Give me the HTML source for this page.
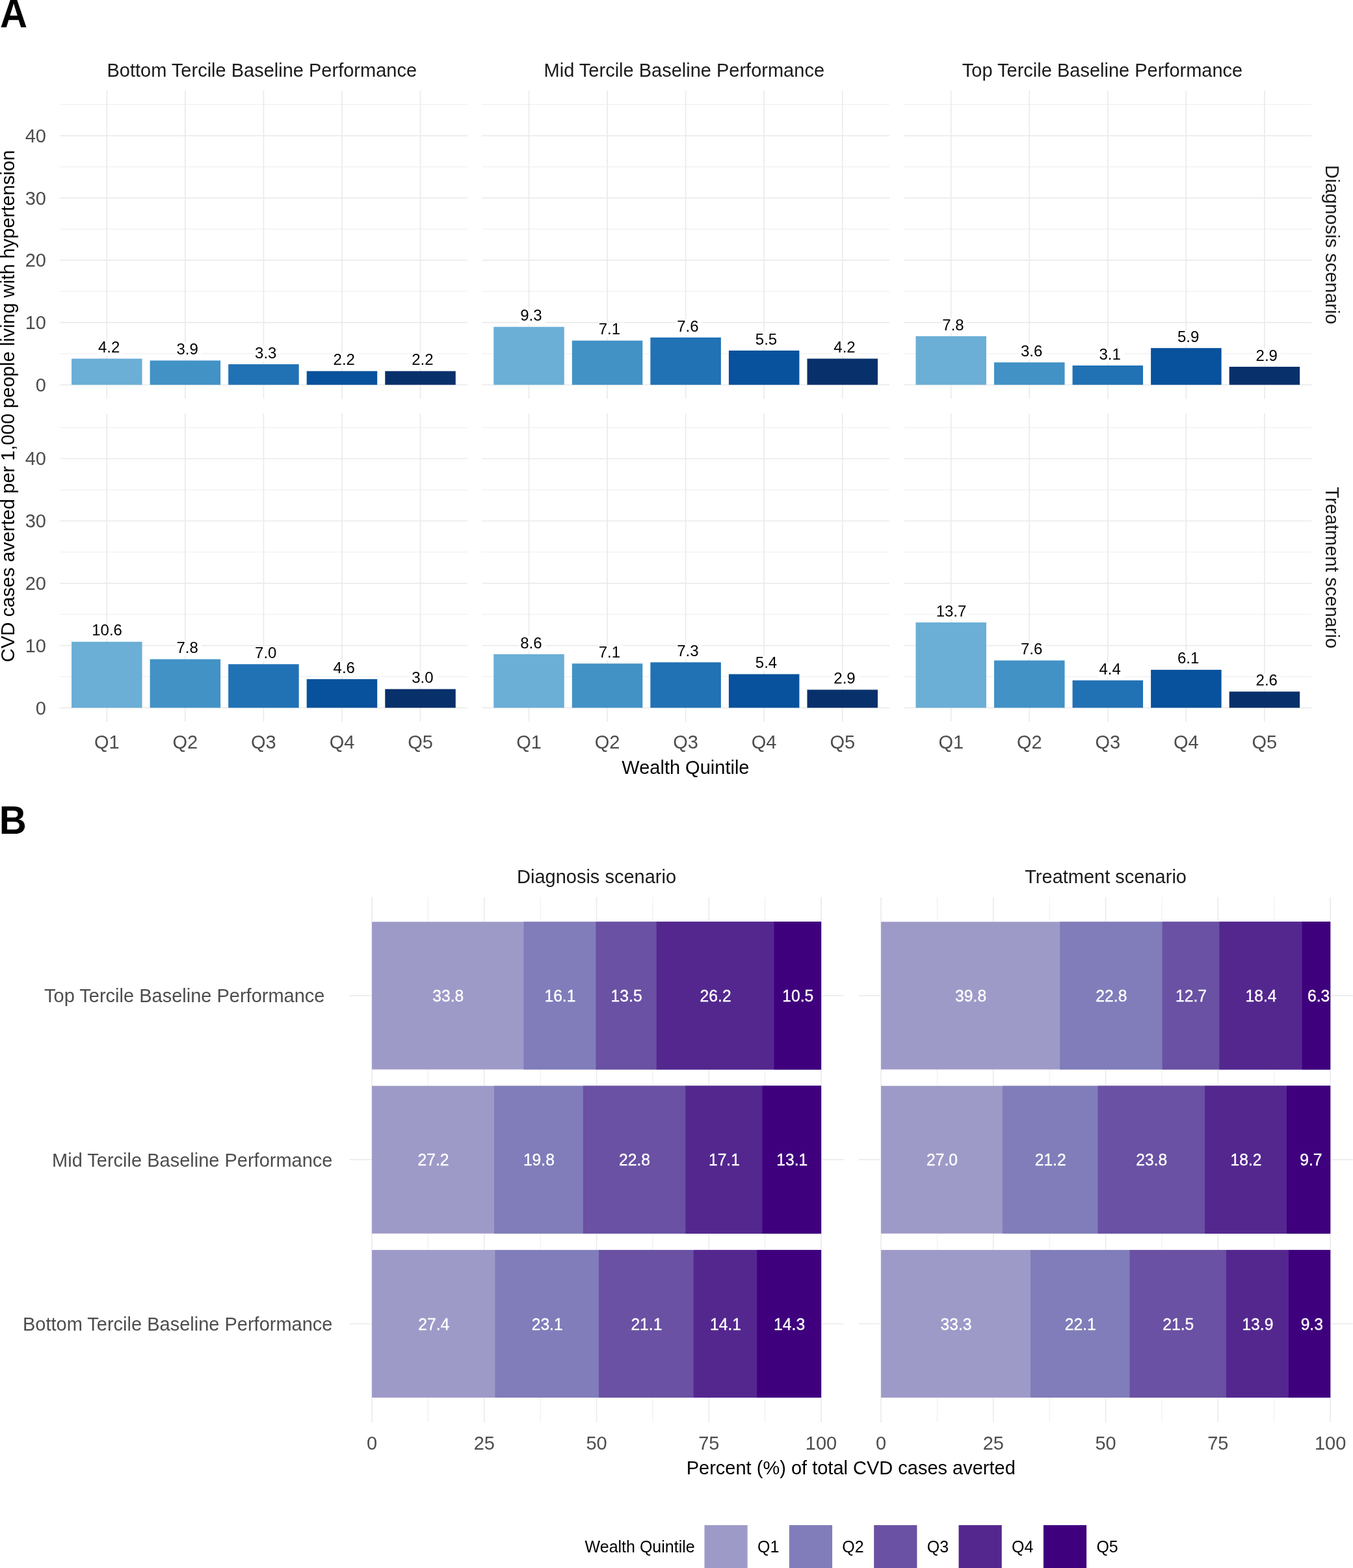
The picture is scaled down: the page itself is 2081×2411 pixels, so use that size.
<!DOCTYPE html>
<html><head><meta charset="utf-8"><title>CVD cases averted by wealth quintile</title>
<style>
html,body{margin:0;padding:0;background:#fff;}
body{width:2081px;height:2411px;overflow:hidden;}
svg{display:block;font-family:"Liberation Sans", Arial, Helvetica, sans-serif;}
</style></head>
<body>
<svg width="2081" height="2411" viewBox="0 0 2081 2411">
<rect x="0" y="0" width="2081" height="2411" fill="#FFFFFF"/>
<line x1="91.99" y1="543.82" x2="718.85" y2="543.82" stroke="#EBEBEB" stroke-width="0.9"/>
<line x1="91.99" y1="448.06" x2="718.85" y2="448.06" stroke="#EBEBEB" stroke-width="0.9"/>
<line x1="91.99" y1="352.3" x2="718.85" y2="352.3" stroke="#EBEBEB" stroke-width="0.9"/>
<line x1="91.99" y1="256.54" x2="718.85" y2="256.54" stroke="#EBEBEB" stroke-width="0.9"/>
<line x1="91.99" y1="160.78" x2="718.85" y2="160.78" stroke="#EBEBEB" stroke-width="0.9"/>
<line x1="91.99" y1="591.7" x2="718.85" y2="591.7" stroke="#EBEBEB" stroke-width="1.7"/>
<line x1="91.99" y1="495.94" x2="718.85" y2="495.94" stroke="#EBEBEB" stroke-width="1.7"/>
<line x1="91.99" y1="400.18" x2="718.85" y2="400.18" stroke="#EBEBEB" stroke-width="1.7"/>
<line x1="91.99" y1="304.42" x2="718.85" y2="304.42" stroke="#EBEBEB" stroke-width="1.7"/>
<line x1="91.99" y1="208.66" x2="718.85" y2="208.66" stroke="#EBEBEB" stroke-width="1.7"/>
<line x1="164.32" y1="139.23" x2="164.32" y2="613.25" stroke="#EBEBEB" stroke-width="1.7"/>
<line x1="284.87" y1="139.23" x2="284.87" y2="613.25" stroke="#EBEBEB" stroke-width="1.7"/>
<line x1="405.42" y1="139.23" x2="405.42" y2="613.25" stroke="#EBEBEB" stroke-width="1.7"/>
<line x1="525.97" y1="139.23" x2="525.97" y2="613.25" stroke="#EBEBEB" stroke-width="1.7"/>
<line x1="646.52" y1="139.23" x2="646.52" y2="613.25" stroke="#EBEBEB" stroke-width="1.7"/>
<rect x="110.07" y="551.48" width="108.5" height="40.22" fill="#6BAED6"/>
<rect x="149.44" y="523.68" width="39.8" height="23" fill="#FFFFFF"/>
<text x="167.62" y="542.08" font-size="24" fill="#000" text-anchor="middle">4.2</text>
<rect x="230.62" y="554.35" width="108.5" height="37.35" fill="#4292C6"/>
<rect x="269.99" y="526.55" width="39.8" height="23" fill="#FFFFFF"/>
<text x="288.17" y="544.95" font-size="24" fill="#000" text-anchor="middle">3.9</text>
<rect x="351.17" y="560.1" width="108.5" height="31.6" fill="#2171B5"/>
<rect x="390.54" y="532.3" width="39.8" height="23" fill="#FFFFFF"/>
<text x="408.72" y="550.7" font-size="24" fill="#000" text-anchor="middle">3.3</text>
<rect x="471.72" y="570.63" width="108.5" height="21.07" fill="#08519C"/>
<rect x="511.09" y="542.83" width="39.8" height="23" fill="#FFFFFF"/>
<text x="529.27" y="561.23" font-size="24" fill="#000" text-anchor="middle">2.2</text>
<rect x="592.27" y="570.63" width="108.5" height="21.07" fill="#08306B"/>
<rect x="631.64" y="542.83" width="39.8" height="23" fill="#FFFFFF"/>
<text x="649.82" y="561.23" font-size="24" fill="#000" text-anchor="middle">2.2</text>
<line x1="741.19" y1="543.82" x2="1368.05" y2="543.82" stroke="#EBEBEB" stroke-width="0.9"/>
<line x1="741.19" y1="448.06" x2="1368.05" y2="448.06" stroke="#EBEBEB" stroke-width="0.9"/>
<line x1="741.19" y1="352.3" x2="1368.05" y2="352.3" stroke="#EBEBEB" stroke-width="0.9"/>
<line x1="741.19" y1="256.54" x2="1368.05" y2="256.54" stroke="#EBEBEB" stroke-width="0.9"/>
<line x1="741.19" y1="160.78" x2="1368.05" y2="160.78" stroke="#EBEBEB" stroke-width="0.9"/>
<line x1="741.19" y1="591.7" x2="1368.05" y2="591.7" stroke="#EBEBEB" stroke-width="1.7"/>
<line x1="741.19" y1="495.94" x2="1368.05" y2="495.94" stroke="#EBEBEB" stroke-width="1.7"/>
<line x1="741.19" y1="400.18" x2="1368.05" y2="400.18" stroke="#EBEBEB" stroke-width="1.7"/>
<line x1="741.19" y1="304.42" x2="1368.05" y2="304.42" stroke="#EBEBEB" stroke-width="1.7"/>
<line x1="741.19" y1="208.66" x2="1368.05" y2="208.66" stroke="#EBEBEB" stroke-width="1.7"/>
<line x1="813.52" y1="139.23" x2="813.52" y2="613.25" stroke="#EBEBEB" stroke-width="1.7"/>
<line x1="934.07" y1="139.23" x2="934.07" y2="613.25" stroke="#EBEBEB" stroke-width="1.7"/>
<line x1="1054.62" y1="139.23" x2="1054.62" y2="613.25" stroke="#EBEBEB" stroke-width="1.7"/>
<line x1="1175.17" y1="139.23" x2="1175.17" y2="613.25" stroke="#EBEBEB" stroke-width="1.7"/>
<line x1="1295.72" y1="139.23" x2="1295.72" y2="613.25" stroke="#EBEBEB" stroke-width="1.7"/>
<rect x="759.27" y="502.64" width="108.5" height="89.06" fill="#6BAED6"/>
<rect x="798.64" y="474.84" width="39.8" height="23" fill="#FFFFFF"/>
<text x="816.82" y="493.24" font-size="24" fill="#000" text-anchor="middle">9.3</text>
<rect x="879.82" y="523.71" width="108.5" height="67.99" fill="#4292C6"/>
<rect x="919.19" y="495.91" width="39.8" height="23" fill="#FFFFFF"/>
<text x="937.37" y="514.31" font-size="24" fill="#000" text-anchor="middle">7.1</text>
<rect x="1000.37" y="518.92" width="108.5" height="72.78" fill="#2171B5"/>
<rect x="1039.74" y="491.12" width="39.8" height="23" fill="#FFFFFF"/>
<text x="1057.92" y="509.52" font-size="24" fill="#000" text-anchor="middle">7.6</text>
<rect x="1120.92" y="539.03" width="108.5" height="52.67" fill="#08519C"/>
<rect x="1160.29" y="511.23" width="39.8" height="23" fill="#FFFFFF"/>
<text x="1178.47" y="529.63" font-size="24" fill="#000" text-anchor="middle">5.5</text>
<rect x="1241.47" y="551.48" width="108.5" height="40.22" fill="#08306B"/>
<rect x="1280.84" y="523.68" width="39.8" height="23" fill="#FFFFFF"/>
<text x="1299.02" y="542.08" font-size="24" fill="#000" text-anchor="middle">4.2</text>
<line x1="1390.39" y1="543.82" x2="2017.25" y2="543.82" stroke="#EBEBEB" stroke-width="0.9"/>
<line x1="1390.39" y1="448.06" x2="2017.25" y2="448.06" stroke="#EBEBEB" stroke-width="0.9"/>
<line x1="1390.39" y1="352.3" x2="2017.25" y2="352.3" stroke="#EBEBEB" stroke-width="0.9"/>
<line x1="1390.39" y1="256.54" x2="2017.25" y2="256.54" stroke="#EBEBEB" stroke-width="0.9"/>
<line x1="1390.39" y1="160.78" x2="2017.25" y2="160.78" stroke="#EBEBEB" stroke-width="0.9"/>
<line x1="1390.39" y1="591.7" x2="2017.25" y2="591.7" stroke="#EBEBEB" stroke-width="1.7"/>
<line x1="1390.39" y1="495.94" x2="2017.25" y2="495.94" stroke="#EBEBEB" stroke-width="1.7"/>
<line x1="1390.39" y1="400.18" x2="2017.25" y2="400.18" stroke="#EBEBEB" stroke-width="1.7"/>
<line x1="1390.39" y1="304.42" x2="2017.25" y2="304.42" stroke="#EBEBEB" stroke-width="1.7"/>
<line x1="1390.39" y1="208.66" x2="2017.25" y2="208.66" stroke="#EBEBEB" stroke-width="1.7"/>
<line x1="1462.72" y1="139.23" x2="1462.72" y2="613.25" stroke="#EBEBEB" stroke-width="1.7"/>
<line x1="1583.27" y1="139.23" x2="1583.27" y2="613.25" stroke="#EBEBEB" stroke-width="1.7"/>
<line x1="1703.82" y1="139.23" x2="1703.82" y2="613.25" stroke="#EBEBEB" stroke-width="1.7"/>
<line x1="1824.37" y1="139.23" x2="1824.37" y2="613.25" stroke="#EBEBEB" stroke-width="1.7"/>
<line x1="1944.92" y1="139.23" x2="1944.92" y2="613.25" stroke="#EBEBEB" stroke-width="1.7"/>
<rect x="1408.47" y="517.01" width="108.5" height="74.69" fill="#6BAED6"/>
<rect x="1447.84" y="489.21" width="39.8" height="23" fill="#FFFFFF"/>
<text x="1466.02" y="507.61" font-size="24" fill="#000" text-anchor="middle">7.8</text>
<rect x="1529.02" y="557.23" width="108.5" height="34.47" fill="#4292C6"/>
<rect x="1568.39" y="529.43" width="39.8" height="23" fill="#FFFFFF"/>
<text x="1586.57" y="547.83" font-size="24" fill="#000" text-anchor="middle">3.6</text>
<rect x="1649.57" y="562.01" width="108.5" height="29.69" fill="#2171B5"/>
<rect x="1688.94" y="534.21" width="39.8" height="23" fill="#FFFFFF"/>
<text x="1707.12" y="552.61" font-size="24" fill="#000" text-anchor="middle">3.1</text>
<rect x="1770.12" y="535.2" width="108.5" height="56.5" fill="#08519C"/>
<rect x="1809.49" y="507.4" width="39.8" height="23" fill="#FFFFFF"/>
<text x="1827.67" y="525.8" font-size="24" fill="#000" text-anchor="middle">5.9</text>
<rect x="1890.67" y="563.93" width="108.5" height="27.77" fill="#08306B"/>
<rect x="1930.04" y="536.13" width="39.8" height="23" fill="#FFFFFF"/>
<text x="1948.22" y="554.53" font-size="24" fill="#000" text-anchor="middle">2.9</text>
<line x1="91.99" y1="1040.42" x2="718.85" y2="1040.42" stroke="#EBEBEB" stroke-width="0.9"/>
<line x1="91.99" y1="944.66" x2="718.85" y2="944.66" stroke="#EBEBEB" stroke-width="0.9"/>
<line x1="91.99" y1="848.9" x2="718.85" y2="848.9" stroke="#EBEBEB" stroke-width="0.9"/>
<line x1="91.99" y1="753.14" x2="718.85" y2="753.14" stroke="#EBEBEB" stroke-width="0.9"/>
<line x1="91.99" y1="657.38" x2="718.85" y2="657.38" stroke="#EBEBEB" stroke-width="0.9"/>
<line x1="91.99" y1="1088.3" x2="718.85" y2="1088.3" stroke="#EBEBEB" stroke-width="1.7"/>
<line x1="91.99" y1="992.54" x2="718.85" y2="992.54" stroke="#EBEBEB" stroke-width="1.7"/>
<line x1="91.99" y1="896.78" x2="718.85" y2="896.78" stroke="#EBEBEB" stroke-width="1.7"/>
<line x1="91.99" y1="801.02" x2="718.85" y2="801.02" stroke="#EBEBEB" stroke-width="1.7"/>
<line x1="91.99" y1="705.26" x2="718.85" y2="705.26" stroke="#EBEBEB" stroke-width="1.7"/>
<line x1="164.32" y1="635.83" x2="164.32" y2="1109.85" stroke="#EBEBEB" stroke-width="1.7"/>
<line x1="284.87" y1="635.83" x2="284.87" y2="1109.85" stroke="#EBEBEB" stroke-width="1.7"/>
<line x1="405.42" y1="635.83" x2="405.42" y2="1109.85" stroke="#EBEBEB" stroke-width="1.7"/>
<line x1="525.97" y1="635.83" x2="525.97" y2="1109.85" stroke="#EBEBEB" stroke-width="1.7"/>
<line x1="646.52" y1="635.83" x2="646.52" y2="1109.85" stroke="#EBEBEB" stroke-width="1.7"/>
<rect x="110.07" y="986.79" width="108.5" height="101.51" fill="#6BAED6"/>
<rect x="141.07" y="958.99" width="49" height="23" fill="#FFFFFF"/>
<text x="164.62" y="977.39" font-size="24" fill="#000" text-anchor="middle">10.6</text>
<rect x="230.62" y="1013.61" width="108.5" height="74.69" fill="#4292C6"/>
<rect x="269.99" y="985.81" width="39.8" height="23" fill="#FFFFFF"/>
<text x="288.17" y="1004.21" font-size="24" fill="#000" text-anchor="middle">7.8</text>
<rect x="351.17" y="1021.27" width="108.5" height="67.03" fill="#2171B5"/>
<rect x="390.54" y="993.47" width="39.8" height="23" fill="#FFFFFF"/>
<text x="408.72" y="1011.87" font-size="24" fill="#000" text-anchor="middle">7.0</text>
<rect x="471.72" y="1044.25" width="108.5" height="44.05" fill="#08519C"/>
<rect x="511.09" y="1016.45" width="39.8" height="23" fill="#FFFFFF"/>
<text x="529.27" y="1034.85" font-size="24" fill="#000" text-anchor="middle">4.6</text>
<rect x="592.27" y="1059.57" width="108.5" height="28.73" fill="#08306B"/>
<rect x="631.64" y="1031.77" width="39.8" height="23" fill="#FFFFFF"/>
<text x="649.82" y="1050.17" font-size="24" fill="#000" text-anchor="middle">3.0</text>
<line x1="741.19" y1="1040.42" x2="1368.05" y2="1040.42" stroke="#EBEBEB" stroke-width="0.9"/>
<line x1="741.19" y1="944.66" x2="1368.05" y2="944.66" stroke="#EBEBEB" stroke-width="0.9"/>
<line x1="741.19" y1="848.9" x2="1368.05" y2="848.9" stroke="#EBEBEB" stroke-width="0.9"/>
<line x1="741.19" y1="753.14" x2="1368.05" y2="753.14" stroke="#EBEBEB" stroke-width="0.9"/>
<line x1="741.19" y1="657.38" x2="1368.05" y2="657.38" stroke="#EBEBEB" stroke-width="0.9"/>
<line x1="741.19" y1="1088.3" x2="1368.05" y2="1088.3" stroke="#EBEBEB" stroke-width="1.7"/>
<line x1="741.19" y1="992.54" x2="1368.05" y2="992.54" stroke="#EBEBEB" stroke-width="1.7"/>
<line x1="741.19" y1="896.78" x2="1368.05" y2="896.78" stroke="#EBEBEB" stroke-width="1.7"/>
<line x1="741.19" y1="801.02" x2="1368.05" y2="801.02" stroke="#EBEBEB" stroke-width="1.7"/>
<line x1="741.19" y1="705.26" x2="1368.05" y2="705.26" stroke="#EBEBEB" stroke-width="1.7"/>
<line x1="813.52" y1="635.83" x2="813.52" y2="1109.85" stroke="#EBEBEB" stroke-width="1.7"/>
<line x1="934.07" y1="635.83" x2="934.07" y2="1109.85" stroke="#EBEBEB" stroke-width="1.7"/>
<line x1="1054.62" y1="635.83" x2="1054.62" y2="1109.85" stroke="#EBEBEB" stroke-width="1.7"/>
<line x1="1175.17" y1="635.83" x2="1175.17" y2="1109.85" stroke="#EBEBEB" stroke-width="1.7"/>
<line x1="1295.72" y1="635.83" x2="1295.72" y2="1109.85" stroke="#EBEBEB" stroke-width="1.7"/>
<rect x="759.27" y="1005.95" width="108.5" height="82.35" fill="#6BAED6"/>
<rect x="798.64" y="978.15" width="39.8" height="23" fill="#FFFFFF"/>
<text x="816.82" y="996.55" font-size="24" fill="#000" text-anchor="middle">8.6</text>
<rect x="879.82" y="1020.31" width="108.5" height="67.99" fill="#4292C6"/>
<rect x="919.19" y="992.51" width="39.8" height="23" fill="#FFFFFF"/>
<text x="937.37" y="1010.91" font-size="24" fill="#000" text-anchor="middle">7.1</text>
<rect x="1000.37" y="1018.4" width="108.5" height="69.9" fill="#2171B5"/>
<rect x="1039.74" y="990.6" width="39.8" height="23" fill="#FFFFFF"/>
<text x="1057.92" y="1009" font-size="24" fill="#000" text-anchor="middle">7.3</text>
<rect x="1120.92" y="1036.59" width="108.5" height="51.71" fill="#08519C"/>
<rect x="1160.29" y="1008.79" width="39.8" height="23" fill="#FFFFFF"/>
<text x="1178.47" y="1027.19" font-size="24" fill="#000" text-anchor="middle">5.4</text>
<rect x="1241.47" y="1060.53" width="108.5" height="27.77" fill="#08306B"/>
<rect x="1280.84" y="1032.73" width="39.8" height="23" fill="#FFFFFF"/>
<text x="1299.02" y="1051.13" font-size="24" fill="#000" text-anchor="middle">2.9</text>
<line x1="1390.39" y1="1040.42" x2="2017.25" y2="1040.42" stroke="#EBEBEB" stroke-width="0.9"/>
<line x1="1390.39" y1="944.66" x2="2017.25" y2="944.66" stroke="#EBEBEB" stroke-width="0.9"/>
<line x1="1390.39" y1="848.9" x2="2017.25" y2="848.9" stroke="#EBEBEB" stroke-width="0.9"/>
<line x1="1390.39" y1="753.14" x2="2017.25" y2="753.14" stroke="#EBEBEB" stroke-width="0.9"/>
<line x1="1390.39" y1="657.38" x2="2017.25" y2="657.38" stroke="#EBEBEB" stroke-width="0.9"/>
<line x1="1390.39" y1="1088.3" x2="2017.25" y2="1088.3" stroke="#EBEBEB" stroke-width="1.7"/>
<line x1="1390.39" y1="992.54" x2="2017.25" y2="992.54" stroke="#EBEBEB" stroke-width="1.7"/>
<line x1="1390.39" y1="896.78" x2="2017.25" y2="896.78" stroke="#EBEBEB" stroke-width="1.7"/>
<line x1="1390.39" y1="801.02" x2="2017.25" y2="801.02" stroke="#EBEBEB" stroke-width="1.7"/>
<line x1="1390.39" y1="705.26" x2="2017.25" y2="705.26" stroke="#EBEBEB" stroke-width="1.7"/>
<line x1="1462.72" y1="635.83" x2="1462.72" y2="1109.85" stroke="#EBEBEB" stroke-width="1.7"/>
<line x1="1583.27" y1="635.83" x2="1583.27" y2="1109.85" stroke="#EBEBEB" stroke-width="1.7"/>
<line x1="1703.82" y1="635.83" x2="1703.82" y2="1109.85" stroke="#EBEBEB" stroke-width="1.7"/>
<line x1="1824.37" y1="635.83" x2="1824.37" y2="1109.85" stroke="#EBEBEB" stroke-width="1.7"/>
<line x1="1944.92" y1="635.83" x2="1944.92" y2="1109.85" stroke="#EBEBEB" stroke-width="1.7"/>
<rect x="1408.47" y="957.11" width="108.5" height="131.19" fill="#6BAED6"/>
<rect x="1439.47" y="929.31" width="49" height="23" fill="#FFFFFF"/>
<text x="1463.02" y="947.71" font-size="24" fill="#000" text-anchor="middle">13.7</text>
<rect x="1529.02" y="1015.52" width="108.5" height="72.78" fill="#4292C6"/>
<rect x="1568.39" y="987.72" width="39.8" height="23" fill="#FFFFFF"/>
<text x="1586.57" y="1006.12" font-size="24" fill="#000" text-anchor="middle">7.6</text>
<rect x="1649.57" y="1046.17" width="108.5" height="42.13" fill="#2171B5"/>
<rect x="1688.94" y="1018.37" width="39.8" height="23" fill="#FFFFFF"/>
<text x="1707.12" y="1036.77" font-size="24" fill="#000" text-anchor="middle">4.4</text>
<rect x="1770.12" y="1029.89" width="108.5" height="58.41" fill="#08519C"/>
<rect x="1809.49" y="1002.09" width="39.8" height="23" fill="#FFFFFF"/>
<text x="1827.67" y="1020.49" font-size="24" fill="#000" text-anchor="middle">6.1</text>
<rect x="1890.67" y="1063.4" width="108.5" height="24.9" fill="#08306B"/>
<rect x="1930.04" y="1035.6" width="39.8" height="23" fill="#FFFFFF"/>
<text x="1948.22" y="1054" font-size="24" fill="#000" text-anchor="middle">2.6</text>
<text x="71" y="601.9" font-size="29" fill="#4D4D4D" text-anchor="end">0</text>
<text x="71" y="506.14" font-size="29" fill="#4D4D4D" text-anchor="end">10</text>
<text x="71" y="410.38" font-size="29" fill="#4D4D4D" text-anchor="end">20</text>
<text x="71" y="314.62" font-size="29" fill="#4D4D4D" text-anchor="end">30</text>
<text x="71" y="218.86" font-size="29" fill="#4D4D4D" text-anchor="end">40</text>
<text x="71" y="1098.5" font-size="29" fill="#4D4D4D" text-anchor="end">0</text>
<text x="71" y="1002.74" font-size="29" fill="#4D4D4D" text-anchor="end">10</text>
<text x="71" y="906.98" font-size="29" fill="#4D4D4D" text-anchor="end">20</text>
<text x="71" y="811.22" font-size="29" fill="#4D4D4D" text-anchor="end">30</text>
<text x="71" y="715.46" font-size="29" fill="#4D4D4D" text-anchor="end">40</text>
<text x="164.32" y="1151.4" font-size="29" fill="#4D4D4D" text-anchor="middle">Q1</text>
<text x="284.87" y="1151.4" font-size="29" fill="#4D4D4D" text-anchor="middle">Q2</text>
<text x="405.42" y="1151.4" font-size="29" fill="#4D4D4D" text-anchor="middle">Q3</text>
<text x="525.97" y="1151.4" font-size="29" fill="#4D4D4D" text-anchor="middle">Q4</text>
<text x="646.52" y="1151.4" font-size="29" fill="#4D4D4D" text-anchor="middle">Q5</text>
<text x="813.52" y="1151.4" font-size="29" fill="#4D4D4D" text-anchor="middle">Q1</text>
<text x="934.07" y="1151.4" font-size="29" fill="#4D4D4D" text-anchor="middle">Q2</text>
<text x="1054.62" y="1151.4" font-size="29" fill="#4D4D4D" text-anchor="middle">Q3</text>
<text x="1175.17" y="1151.4" font-size="29" fill="#4D4D4D" text-anchor="middle">Q4</text>
<text x="1295.72" y="1151.4" font-size="29" fill="#4D4D4D" text-anchor="middle">Q5</text>
<text x="1462.72" y="1151.4" font-size="29" fill="#4D4D4D" text-anchor="middle">Q1</text>
<text x="1583.27" y="1151.4" font-size="29" fill="#4D4D4D" text-anchor="middle">Q2</text>
<text x="1703.82" y="1151.4" font-size="29" fill="#4D4D4D" text-anchor="middle">Q3</text>
<text x="1824.37" y="1151.4" font-size="29" fill="#4D4D4D" text-anchor="middle">Q4</text>
<text x="1944.92" y="1151.4" font-size="29" fill="#4D4D4D" text-anchor="middle">Q5</text>
<text x="402.75" y="118" font-size="29" fill="#1A1A1A" text-anchor="middle">Bottom Tercile Baseline Performance</text>
<text x="1052.3" y="118" font-size="29" fill="#1A1A1A" text-anchor="middle">Mid Tercile Baseline Performance</text>
<text x="1695.5" y="118" font-size="29" fill="#1A1A1A" text-anchor="middle">Top Tercile Baseline Performance</text>
<text transform="translate(2038.5,376.24) rotate(90)" font-size="29" fill="#1A1A1A" text-anchor="middle">Diagnosis scenario</text>
<text transform="translate(2038.5,872.84) rotate(90)" font-size="29" fill="#1A1A1A" text-anchor="middle">Treatment scenario</text>
<text transform="translate(21.5,624.5) rotate(-90)" font-size="29.15" fill="#000" text-anchor="middle">CVD cases averted per 1,000 people living with hypertension</text>
<text x="1054.4" y="1190.1" font-size="29" fill="#000" text-anchor="middle">Wealth Quintile</text>
<text x="0" y="42" font-size="63" font-weight="bold" fill="#000" transform="scale(0.925,1)">A</text>
<text x="0" y="1282" font-size="61" font-weight="bold" fill="#000" transform="translate(-1.2,0) scale(0.955,1)">B</text>
<line x1="658.42" y1="1379.52" x2="658.42" y2="2186.88" stroke="#EBEBEB" stroke-width="0.9"/>
<line x1="831.17" y1="1379.52" x2="831.17" y2="2186.88" stroke="#EBEBEB" stroke-width="0.9"/>
<line x1="1003.92" y1="1379.52" x2="1003.92" y2="2186.88" stroke="#EBEBEB" stroke-width="0.9"/>
<line x1="1176.67" y1="1379.52" x2="1176.67" y2="2186.88" stroke="#EBEBEB" stroke-width="0.9"/>
<line x1="572.05" y1="1379.52" x2="572.05" y2="2186.88" stroke="#EBEBEB" stroke-width="1.7"/>
<line x1="744.8" y1="1379.52" x2="744.8" y2="2186.88" stroke="#EBEBEB" stroke-width="1.7"/>
<line x1="917.55" y1="1379.52" x2="917.55" y2="2186.88" stroke="#EBEBEB" stroke-width="1.7"/>
<line x1="1090.3" y1="1379.52" x2="1090.3" y2="2186.88" stroke="#EBEBEB" stroke-width="1.7"/>
<line x1="1263.05" y1="1379.52" x2="1263.05" y2="2186.88" stroke="#EBEBEB" stroke-width="1.7"/>
<line x1="537.5" y1="1530.9" x2="1297.6" y2="1530.9" stroke="#EBEBEB" stroke-width="1.7"/>
<line x1="537.5" y1="1783.2" x2="1297.6" y2="1783.2" stroke="#EBEBEB" stroke-width="1.7"/>
<line x1="537.5" y1="2035.5" x2="1297.6" y2="2035.5" stroke="#EBEBEB" stroke-width="1.7"/>
<rect x="572.05" y="1417.37" width="691" height="227.07" fill="#9E9AC8"/>
<rect x="805.37" y="1417.37" width="457.68" height="227.07" fill="#807DBA"/>
<rect x="916.51" y="1417.37" width="346.54" height="227.07" fill="#6A51A3"/>
<rect x="1009.71" y="1417.37" width="253.34" height="227.07" fill="#54278F"/>
<rect x="1190.57" y="1417.37" width="72.48" height="227.07" fill="#3F007D"/>
<text x="689.21" y="1540" font-size="26" fill="#FFFFFF" text-anchor="middle" stroke="#FFFFFF" stroke-width="0.35" transform-origin="689.21 1530.9" style="transform:scaleX(0.95)">33.8</text>
<text x="861.44" y="1540" font-size="26" fill="#FFFFFF" text-anchor="middle" stroke="#FFFFFF" stroke-width="0.35" transform-origin="861.44 1530.9" style="transform:scaleX(0.95)">16.1</text>
<text x="963.61" y="1540" font-size="26" fill="#FFFFFF" text-anchor="middle" stroke="#FFFFFF" stroke-width="0.35" transform-origin="963.61 1530.9" style="transform:scaleX(0.95)">13.5</text>
<text x="1100.64" y="1540" font-size="26" fill="#FFFFFF" text-anchor="middle" stroke="#FFFFFF" stroke-width="0.35" transform-origin="1100.64 1530.9" style="transform:scaleX(0.95)">26.2</text>
<text x="1227.31" y="1540" font-size="26" fill="#FFFFFF" text-anchor="middle" stroke="#FFFFFF" stroke-width="0.35" transform-origin="1227.31 1530.9" style="transform:scaleX(0.95)">10.5</text>
<rect x="572.05" y="1669.66" width="691" height="227.07" fill="#9E9AC8"/>
<rect x="760" y="1669.66" width="503.05" height="227.07" fill="#807DBA"/>
<rect x="896.82" y="1669.66" width="366.23" height="227.07" fill="#6A51A3"/>
<rect x="1054.37" y="1669.66" width="208.68" height="227.07" fill="#54278F"/>
<rect x="1172.53" y="1669.66" width="90.52" height="227.07" fill="#3F007D"/>
<text x="666.53" y="1792.3" font-size="26" fill="#FFFFFF" text-anchor="middle" stroke="#FFFFFF" stroke-width="0.35" transform-origin="666.53 1783.2" style="transform:scaleX(0.95)">27.2</text>
<text x="828.91" y="1792.3" font-size="26" fill="#FFFFFF" text-anchor="middle" stroke="#FFFFFF" stroke-width="0.35" transform-origin="828.91 1783.2" style="transform:scaleX(0.95)">19.8</text>
<text x="976.09" y="1792.3" font-size="26" fill="#FFFFFF" text-anchor="middle" stroke="#FFFFFF" stroke-width="0.35" transform-origin="976.09 1783.2" style="transform:scaleX(0.95)">22.8</text>
<text x="1113.95" y="1792.3" font-size="26" fill="#FFFFFF" text-anchor="middle" stroke="#FFFFFF" stroke-width="0.35" transform-origin="1113.95 1783.2" style="transform:scaleX(0.95)">17.1</text>
<text x="1218.29" y="1792.3" font-size="26" fill="#FFFFFF" text-anchor="middle" stroke="#FFFFFF" stroke-width="0.35" transform-origin="1218.29 1783.2" style="transform:scaleX(0.95)">13.1</text>
<rect x="572.05" y="1921.96" width="691" height="227.07" fill="#9E9AC8"/>
<rect x="761.38" y="1921.96" width="501.67" height="227.07" fill="#807DBA"/>
<rect x="921" y="1921.96" width="342.05" height="227.07" fill="#6A51A3"/>
<rect x="1066.81" y="1921.96" width="196.24" height="227.07" fill="#54278F"/>
<rect x="1164.24" y="1921.96" width="98.81" height="227.07" fill="#3F007D"/>
<text x="667.22" y="2044.6" font-size="26" fill="#FFFFFF" text-anchor="middle" stroke="#FFFFFF" stroke-width="0.35" transform-origin="667.22 2035.5" style="transform:scaleX(0.95)">27.4</text>
<text x="841.69" y="2044.6" font-size="26" fill="#FFFFFF" text-anchor="middle" stroke="#FFFFFF" stroke-width="0.35" transform-origin="841.69 2035.5" style="transform:scaleX(0.95)">23.1</text>
<text x="994.41" y="2044.6" font-size="26" fill="#FFFFFF" text-anchor="middle" stroke="#FFFFFF" stroke-width="0.35" transform-origin="994.41 2035.5" style="transform:scaleX(0.95)">21.1</text>
<text x="1116.02" y="2044.6" font-size="26" fill="#FFFFFF" text-anchor="middle" stroke="#FFFFFF" stroke-width="0.35" transform-origin="1116.02 2035.5" style="transform:scaleX(0.95)">14.1</text>
<text x="1214.14" y="2044.6" font-size="26" fill="#FFFFFF" text-anchor="middle" stroke="#FFFFFF" stroke-width="0.35" transform-origin="1214.14 2035.5" style="transform:scaleX(0.95)">14.3</text>
<text x="572.05" y="2228.7" font-size="29" fill="#4D4D4D" text-anchor="middle">0</text>
<text x="744.8" y="2228.7" font-size="29" fill="#4D4D4D" text-anchor="middle">25</text>
<text x="917.55" y="2228.7" font-size="29" fill="#4D4D4D" text-anchor="middle">50</text>
<text x="1090.3" y="2228.7" font-size="29" fill="#4D4D4D" text-anchor="middle">75</text>
<text x="1263.05" y="2228.7" font-size="29" fill="#4D4D4D" text-anchor="middle">100</text>
<line x1="1441.47" y1="1379.52" x2="1441.47" y2="2186.88" stroke="#EBEBEB" stroke-width="0.9"/>
<line x1="1614.22" y1="1379.52" x2="1614.22" y2="2186.88" stroke="#EBEBEB" stroke-width="0.9"/>
<line x1="1786.97" y1="1379.52" x2="1786.97" y2="2186.88" stroke="#EBEBEB" stroke-width="0.9"/>
<line x1="1959.72" y1="1379.52" x2="1959.72" y2="2186.88" stroke="#EBEBEB" stroke-width="0.9"/>
<line x1="1355.1" y1="1379.52" x2="1355.1" y2="2186.88" stroke="#EBEBEB" stroke-width="1.7"/>
<line x1="1527.85" y1="1379.52" x2="1527.85" y2="2186.88" stroke="#EBEBEB" stroke-width="1.7"/>
<line x1="1700.6" y1="1379.52" x2="1700.6" y2="2186.88" stroke="#EBEBEB" stroke-width="1.7"/>
<line x1="1873.35" y1="1379.52" x2="1873.35" y2="2186.88" stroke="#EBEBEB" stroke-width="1.7"/>
<line x1="2046.1" y1="1379.52" x2="2046.1" y2="2186.88" stroke="#EBEBEB" stroke-width="1.7"/>
<line x1="1320.55" y1="1530.9" x2="2080.65" y2="1530.9" stroke="#EBEBEB" stroke-width="1.7"/>
<line x1="1320.55" y1="1783.2" x2="2080.65" y2="1783.2" stroke="#EBEBEB" stroke-width="1.7"/>
<line x1="1320.55" y1="2035.5" x2="2080.65" y2="2035.5" stroke="#EBEBEB" stroke-width="1.7"/>
<rect x="1355.1" y="1417.37" width="691" height="227.07" fill="#9E9AC8"/>
<rect x="1630.12" y="1417.37" width="415.98" height="227.07" fill="#807DBA"/>
<rect x="1787.67" y="1417.37" width="258.43" height="227.07" fill="#6A51A3"/>
<rect x="1875.42" y="1417.37" width="170.68" height="227.07" fill="#54278F"/>
<rect x="2002.57" y="1417.37" width="43.53" height="227.07" fill="#3F007D"/>
<text x="1493.11" y="1540" font-size="26" fill="#FFFFFF" text-anchor="middle" stroke="#FFFFFF" stroke-width="0.35" transform-origin="1493.11 1530.9" style="transform:scaleX(0.95)">39.8</text>
<text x="1709.39" y="1540" font-size="26" fill="#FFFFFF" text-anchor="middle" stroke="#FFFFFF" stroke-width="0.35" transform-origin="1709.39 1530.9" style="transform:scaleX(0.95)">22.8</text>
<text x="1832.04" y="1540" font-size="26" fill="#FFFFFF" text-anchor="middle" stroke="#FFFFFF" stroke-width="0.35" transform-origin="1832.04 1530.9" style="transform:scaleX(0.95)">12.7</text>
<text x="1939.49" y="1540" font-size="26" fill="#FFFFFF" text-anchor="middle" stroke="#FFFFFF" stroke-width="0.35" transform-origin="1939.49 1530.9" style="transform:scaleX(0.95)">18.4</text>
<text x="2028.13" y="1540" font-size="26" fill="#FFFFFF" text-anchor="middle" stroke="#FFFFFF" stroke-width="0.35" transform-origin="2028.13 1530.9" style="transform:scaleX(0.95)">6.3</text>
<rect x="1355.1" y="1669.66" width="691" height="227.07" fill="#9E9AC8"/>
<rect x="1541.86" y="1669.66" width="504.24" height="227.07" fill="#807DBA"/>
<rect x="1688.5" y="1669.66" width="357.6" height="227.07" fill="#6A51A3"/>
<rect x="1853.12" y="1669.66" width="192.98" height="227.07" fill="#54278F"/>
<rect x="1979.01" y="1669.66" width="67.09" height="227.07" fill="#3F007D"/>
<text x="1448.98" y="1792.3" font-size="26" fill="#FFFFFF" text-anchor="middle" stroke="#FFFFFF" stroke-width="0.35" transform-origin="1448.98 1783.2" style="transform:scaleX(0.95)">27.0</text>
<text x="1615.68" y="1792.3" font-size="26" fill="#FFFFFF" text-anchor="middle" stroke="#FFFFFF" stroke-width="0.35" transform-origin="1615.68 1783.2" style="transform:scaleX(0.95)">21.2</text>
<text x="1771.31" y="1792.3" font-size="26" fill="#FFFFFF" text-anchor="middle" stroke="#FFFFFF" stroke-width="0.35" transform-origin="1771.31 1783.2" style="transform:scaleX(0.95)">23.8</text>
<text x="1916.56" y="1792.3" font-size="26" fill="#FFFFFF" text-anchor="middle" stroke="#FFFFFF" stroke-width="0.35" transform-origin="1916.56 1783.2" style="transform:scaleX(0.95)">18.2</text>
<text x="2016.35" y="1792.3" font-size="26" fill="#FFFFFF" text-anchor="middle" stroke="#FFFFFF" stroke-width="0.35" transform-origin="2016.35 1783.2" style="transform:scaleX(0.95)">9.7</text>
<rect x="1355.1" y="1921.96" width="691" height="227.07" fill="#9E9AC8"/>
<rect x="1584.97" y="1921.96" width="461.13" height="227.07" fill="#807DBA"/>
<rect x="1737.53" y="1921.96" width="308.57" height="227.07" fill="#6A51A3"/>
<rect x="1885.95" y="1921.96" width="160.15" height="227.07" fill="#54278F"/>
<rect x="1981.9" y="1921.96" width="64.2" height="227.07" fill="#3F007D"/>
<text x="1470.54" y="2044.6" font-size="26" fill="#FFFFFF" text-anchor="middle" stroke="#FFFFFF" stroke-width="0.35" transform-origin="1470.54 2035.5" style="transform:scaleX(0.95)">33.3</text>
<text x="1661.75" y="2044.6" font-size="26" fill="#FFFFFF" text-anchor="middle" stroke="#FFFFFF" stroke-width="0.35" transform-origin="1661.75 2035.5" style="transform:scaleX(0.95)">22.1</text>
<text x="1812.24" y="2044.6" font-size="26" fill="#FFFFFF" text-anchor="middle" stroke="#FFFFFF" stroke-width="0.35" transform-origin="1812.24 2035.5" style="transform:scaleX(0.95)">21.5</text>
<text x="1934.42" y="2044.6" font-size="26" fill="#FFFFFF" text-anchor="middle" stroke="#FFFFFF" stroke-width="0.35" transform-origin="1934.42 2035.5" style="transform:scaleX(0.95)">13.9</text>
<text x="2017.8" y="2044.6" font-size="26" fill="#FFFFFF" text-anchor="middle" stroke="#FFFFFF" stroke-width="0.35" transform-origin="2017.8 2035.5" style="transform:scaleX(0.95)">9.3</text>
<text x="1355.1" y="2228.7" font-size="29" fill="#4D4D4D" text-anchor="middle">0</text>
<text x="1527.85" y="2228.7" font-size="29" fill="#4D4D4D" text-anchor="middle">25</text>
<text x="1700.6" y="2228.7" font-size="29" fill="#4D4D4D" text-anchor="middle">50</text>
<text x="1873.35" y="2228.7" font-size="29" fill="#4D4D4D" text-anchor="middle">75</text>
<text x="2046.1" y="2228.7" font-size="29" fill="#4D4D4D" text-anchor="middle">100</text>
<text x="917.55" y="1358.4" font-size="29" fill="#1A1A1A" text-anchor="middle">Diagnosis scenario</text>
<text x="1700.6" y="1358.4" font-size="29" fill="#1A1A1A" text-anchor="middle">Treatment scenario</text>
<text x="499.5" y="1541.4" font-size="29" fill="#4D4D4D" text-anchor="end">Top Tercile Baseline Performance</text>
<text x="511.5" y="1793.7" font-size="29" fill="#4D4D4D" text-anchor="end">Mid Tercile Baseline Performance</text>
<text x="511.5" y="2046" font-size="29" fill="#4D4D4D" text-anchor="end">Bottom Tercile Baseline Performance</text>
<text x="1308.8" y="2267.2" font-size="29" fill="#000" text-anchor="middle">Percent (%) of total CVD cases averted</text>
<text x="899.6" y="2387.2" font-size="25" fill="#000" text-anchor="start">Wealth Quintile</text>
<rect x="1083.5" y="2345.1" width="66.2" height="66.2" fill="#9E9AC8"/>
<text x="1165" y="2387.2" font-size="25" fill="#000" text-anchor="start">Q1</text>
<rect x="1213.85" y="2345.1" width="66.2" height="66.2" fill="#807DBA"/>
<text x="1295.35" y="2387.2" font-size="25" fill="#000" text-anchor="start">Q2</text>
<rect x="1344.2" y="2345.1" width="66.2" height="66.2" fill="#6A51A3"/>
<text x="1425.7" y="2387.2" font-size="25" fill="#000" text-anchor="start">Q3</text>
<rect x="1474.55" y="2345.1" width="66.2" height="66.2" fill="#54278F"/>
<text x="1556.05" y="2387.2" font-size="25" fill="#000" text-anchor="start">Q4</text>
<rect x="1604.9" y="2345.1" width="66.2" height="66.2" fill="#3F007D"/>
<text x="1686.4" y="2387.2" font-size="25" fill="#000" text-anchor="start">Q5</text>
</svg>
</body></html>
